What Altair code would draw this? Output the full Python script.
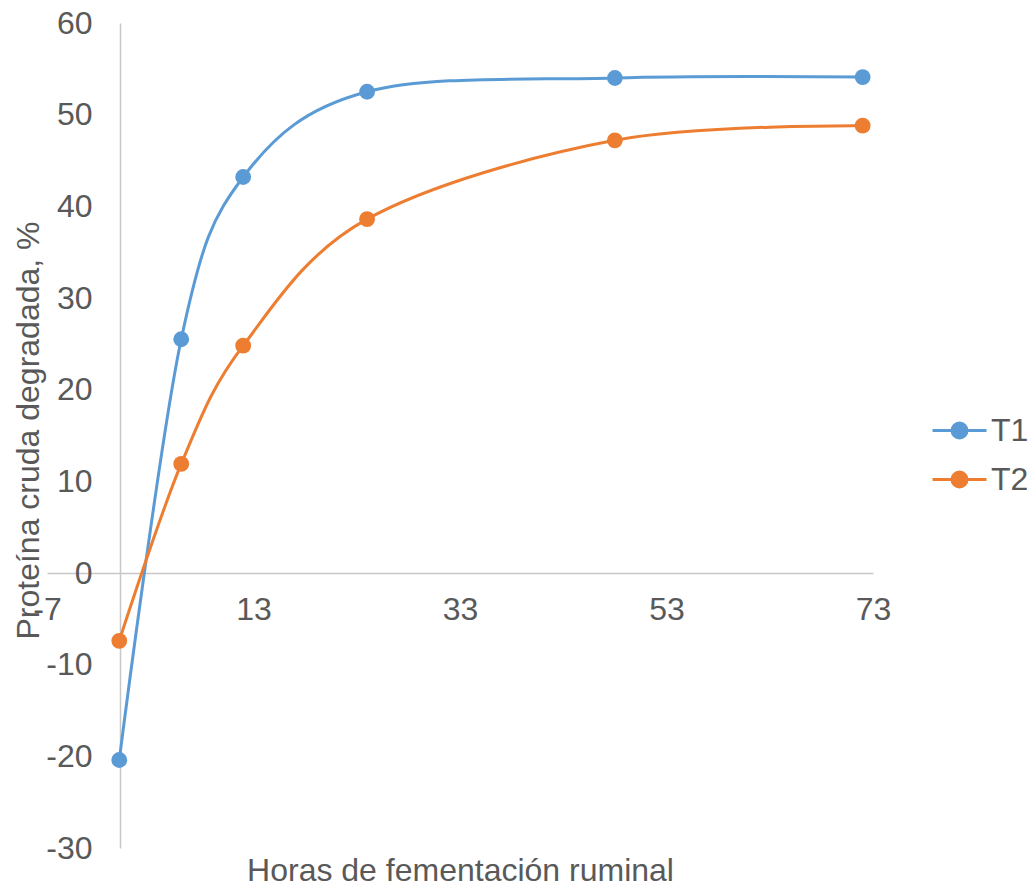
import altair as alt
import pandas as pd

hours = [0, 6, 12, 24, 48, 72]
t1 = [-20.4, 25.5, 43.2, 52.5, 54.0, 54.1]
t2 = [-7.4, 11.9, 24.8, 38.6, 47.2, 48.8]
series = ["T1", "T2"]
colors = ["#5B9BD5", "#ED7D31"]
x_ticks = [-7, 13, 33, 53, 73]
y_ticks = list(range(-30, 61, 10))

rows = []
for s, vals in zip(series, [t1, t2]):
    for h, v in zip(hours, vals):
        rows.append({"h": h, "v": v, "s": s})
df = pd.DataFrame(rows)

W, H = 826, 825
FONT = "Liberation Sans"
TXT = "#595959"
FS = 32

x_scale = alt.Scale(domain=[-7, 73], nice=False, zero=False)
y_scale = alt.Scale(domain=[-30, 60], nice=False, zero=False)
color_scale = alt.Scale(domain=series, range=colors)

legend = alt.Legend(
    title=None, orient="none", legendX=896, legendY=391,
    symbolType="M-1.8,0H1.8M0.5,0A0.5,0.5,0,1,1,-0.5,0A0.5,0.5,0,1,1,0.5,0",
    symbolSize=900, symbolStrokeWidth=3,
    labelFontSize=FS, labelColor=TXT, labelFont=FONT,
    labelOffset=15, rowPadding=16, padding=0,
)

x_axis = alt.Axis(
    values=x_ticks, title="Horas de fementación ruminal", offset=-275,
    ticks=False, grid=False, domainColor="#C8C8C8", domainWidth=1.5,
    labelFontSize=FS, labelColor=TXT, labelFont=FONT, labelPadding=21,
    labelFlush=False, labelOverlap=False, labelExpr="'' + datum.value",
    titleX=413, titleY=297, titleBaseline="middle", titleFontSize=FS,
    titleFontWeight="normal", titleColor=TXT, titleFont=FONT,
)
y_axis = alt.Axis(
    values=y_ticks, title="Proteína cruda degradada, %", offset=-73,
    ticks=False, grid=False, domainColor="#C8C8C8", domainWidth=1.5,
    labelFontSize=FS, labelColor=TXT, labelFont=FONT, labelPadding=28,
    labelFlush=False, labelOverlap=False, labelExpr="'' + datum.value",
    titleX=-92, titleY=407, titleBaseline="middle", titleFontSize=FS,
    titleFontWeight="normal", titleColor=TXT, titleFont=FONT,
)

base = alt.Chart(df).encode(
    x=alt.X("h:Q", scale=x_scale, axis=x_axis),
    y=alt.Y("v:Q", scale=y_scale, axis=y_axis),
    color=alt.Color("s:N", scale=color_scale, legend=legend),
)

lines = base.mark_line(strokeWidth=3, interpolate="cardinal")
points = base.mark_point(filled=True, size=250, opacity=1)

chart = alt.layer(lines, points).properties(
    width=W, height=H,
    autosize=alt.AutoSizeParams(type="none"),
    padding={"left": 47, "top": 23, "right": 161, "bottom": 40},
    background="white",
).configure_view(stroke=None)

chart.save("out.html", embed_options={"renderer": "svg", "actions": False})
